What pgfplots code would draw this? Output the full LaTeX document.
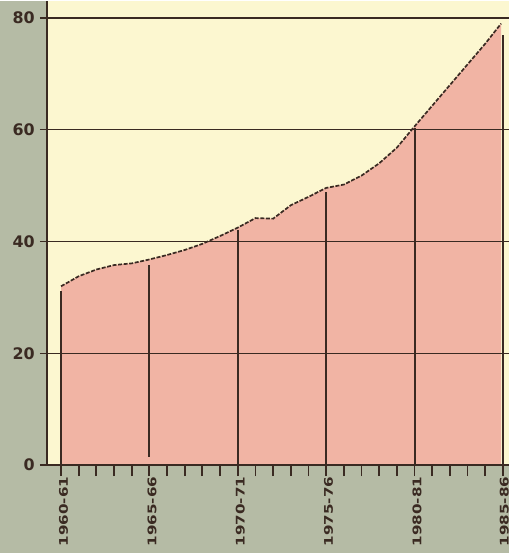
\documentclass[border=0pt]{standalone}
\usepackage{pgfplots}
\pgfplotsset{compat=1.18}
\usepackage{fontspec}
\setmainfont{DejaVu Sans}
\definecolor{bg}{HTML}{B5BBA5}
\definecolor{cream}{HTML}{FCF7D0}
\definecolor{pinkfill}{HTML}{F1B4A4}
\definecolor{dark}{HTML}{3A2A22}
\pgfplotstableread{
x y
0 32.0
1 33.8
2 35.0
3 35.8
4 36.1
5 36.8
6 37.6
7 38.5
8 39.6
9 41.0
10 42.5
11 44.2
12 44.1
13 46.5
14 48.0
15 49.6
16 50.2
17 51.8
18 54.0
19 56.8
20 60.6
21 64.3
22 68.0
23 71.7
24 75.4
24.9 79.0
}\growth
\newcommand{\xl}[1]{\scalebox{1.27}[1]{#1}}
\begin{document}
\begin{tikzpicture}
\fill[bg] (-47bp,-88bp) rectangle (463bp,465bp);
\begin{axis}[
  at={(0,0)}, anchor=south west,
  scale only axis, width=463bp, height=465bp,
  xmin=-0.8, xmax=25.35, ymin=0, ymax=83.04,
  clip=false,
  /pgf/number format/assume math mode=true,
  axis background/.style={fill=cream},
  axis x line*=bottom, axis y line*=left,
  x axis line style={draw=none},
  y axis line style={line width=2bp, color=dark},
  tick align=outside,
  major tick length=11bp, minor tick length=11bp,
  xtick={0,5,10,15,20,25},
  xticklabels={\xl{1960-61},\xl{1965-66},\xl{1970-71},\xl{1975-76},\xl{1980-81},\raisebox{2.5bp}{\xl{1985-86}}},
  minor x tick num=4,
  x tick style={line width=1.9bp, color=dark},
  xticklabel style={rotate=90, anchor=east, inner sep=0pt, font=\bfseries\fontsize{12}{12}\selectfont, text=dark, yshift=-2.5bp, xshift=-0.5bp},
  ytick={0,20,40,60,80},
  ytick style={draw=none},
  yticklabel style={anchor=east, inner sep=0pt, font=\bfseries\fontsize{16}{16}\selectfont, text=dark, xshift=-1bp},
]
\addplot[fill=pinkfill, draw=none] table[x=x,y=y] {\growth} \closedcycle;
% gridlines
\addplot[dark, line width=2.4bp] coordinates {(-1.2,80) (25.35,80)};
\addplot[dark, line width=1.1bp] coordinates {(-1.2,60) (25.35,60)};
\addplot[dark, line width=1.5bp] coordinates {(-1.2,40) (25.35,40)};
\addplot[dark, line width=1.5bp] coordinates {(-1.2,20) (25.35,20)};
\addplot[dark, line width=2bp] coordinates {(-1.2,0) (25.35,0)};
% vertical lines
\addplot[dark, line width=2bp] coordinates {(0,0) (0,31.2)};
\addplot[dark, line width=2bp] coordinates {(5,1.5) (5,35.8)};
\addplot[dark, line width=2bp] coordinates {(10,0) (10,42.0)};
\addplot[dark, line width=2bp] coordinates {(15,0) (15,48.8)};
\addplot[dark, line width=2bp] coordinates {(20,0) (20,60.3)};
\addplot[dark, line width=2bp] coordinates {(25,0) (25,77.0)};
% curve
\addplot[dark, line width=1.7bp, dash pattern=on 4bp off 1.6bp] table[x=x,y=y] {\growth};
\end{axis}
\end{tikzpicture}
\end{document}
